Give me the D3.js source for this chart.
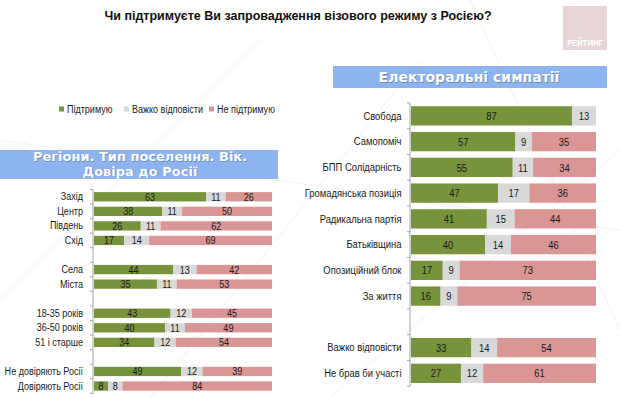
<!DOCTYPE html>
<html><head>
<meta charset="utf-8">
<script src="https://d3js.org/d3.v7.min.js"></script>
<style>
  body { margin: 0; background: #fff; }
  svg text { font-family: "Liberation Sans", Arial, sans-serif; }
  .hdr { font-family: "DejaVu Sans", sans-serif !important; font-weight: bold; }
</style>
</head>
<body>
<svg id="chart" width="620" height="398"></svg>
<script>
// categories and values (percent)
const leftCats = ["Захід", "Центр", "Південь", "Схід", "", "Села", "Міста", "",
  "18-35 років", "36-50 років", "51 і старше", "", "Не довіряють Росії", "Довіряють Росії"];
const leftSupport = [63, 38, 26, 17, null, 44, 35, null, 43, 40, 34, null, 49, 8];
const leftHard    = [11, 11, 11, 14, null, 13, 11, null, 12, 11, 12, null, 12, 8];
const leftAgainst = [26, 50, 62, 69, null, 42, 53, null, 45, 49, 54, null, 39, 84];

const rightCats = ["Свобода", "Самопоміч", "БПП Солідарність", "Громадянська позиція",
  "Радикальна партія", "Батьківщина", "Опозиційний блок", "За життя", "",
  "Важко відповісти", "Не брав би участі"];
const rightSupport = [87, 57, 55, 47, 41, 40, 17, 16, null, 33, 27];
const rightHard    = [13, 9, 11, 17, 15, 14, 9, 9, null, 14, 12];
const rightAgainst = [0, 35, 34, 36, 44, 46, 73, 75, null, 54, 61];

const seriesNames = ["Підтримую", "Важко відповісти", "Не підтримую"];
const colors = ["#77933c", "#d9d9d9", "#d99694"];

const NARROW = 0.82; // squeeze Arial-metric text to look like Arial Narrow
const svg = d3.select("#chart");

// faint background lines
const bg = svg.append("g").attr("stroke", "#eeeeee").attr("stroke-width", 0.8).attr("fill", "none");
[[0, 300, 260, 40], [150, 398, 420, 60], [330, 398, 620, 150], [470, 0, 620, 330], [0, 140, 620, 230]]
  .forEach(l => bg.append("line").attr("x1", l[0]).attr("y1", l[1]).attr("x2", l[2]).attr("y2", l[3]));

// title
svg.append("text").attr("x", 298).attr("y", 20).attr("text-anchor", "middle")
  .style("font-weight", "bold").style("font-size", "12.5px").attr("fill", "#111")
  .text("Чи підтримуєте Ви запровадження візового режиму з Росією?");

// logo
svg.append("rect").attr("x", 563).attr("y", 6).attr("width", 44).attr("height", 44).attr("fill", "#e6d6d7");
svg.append("text").attr("transform", "translate(585,46) scale(0.85,1)").attr("text-anchor", "middle")
  .style("font-weight", "bold").style("font-size", "9px").attr("fill", "#fff").text("РЕЙТИНГ");

// header text with a soft shadow
function header(x, y, size, txt) {
  svg.append("text").attr("class", "hdr").attr("x", x + 0.8).attr("y", y + 0.8).attr("text-anchor", "middle")
    .style("font-size", size + "px").attr("fill", "#5b79ab").attr("opacity", 0.7).text(txt);
  svg.append("text").attr("class", "hdr").attr("x", x).attr("y", y).attr("text-anchor", "middle")
    .style("font-size", size + "px").attr("fill", "#fff").text(txt);
}

svg.append("rect").attr("x", 0).attr("y", 150).attr("width", 278).attr("height", 29).attr("fill", "#8eb4f0");
header(140, 161, 13, "Регіони. Тип поселення. Вік.");
header(140, 175.5, 13, "Довіра до Росії");

svg.append("rect").attr("x", 333).attr("y", 66).attr("width", 274).attr("height", 22).attr("fill", "#8eb4f0");
header(469, 82, 14, "Електоральні симпатії");

// legend
const legX = [59, 124, 209];
seriesNames.forEach((n, i) => {
  svg.append("rect").attr("x", legX[i]).attr("y", 106.5).attr("width", 5).attr("height", 5).attr("fill", colors[i]);
  svg.append("text").attr("transform", `translate(${legX[i] + 8},113) scale(${NARROW},1)`)
    .style("font-size", "11px").attr("fill", "#222").text(n);
});

function drawPanel(cats, sup, hard, ag, x0, x1, y0, y1, pad, fs, labelPad) {
  const rows = cats.map((c, i) => ({ i: i, c: c, s: sup[i], h: hard[i], a: ag[i] }));
  const y = d3.scaleBand().domain(rows.map(d => d.i)).range([y0, y1]).paddingInner(pad).paddingOuter(pad / 2);
  const x = d3.scaleLinear().domain([0, 1]).range([x0, x1]);
  const filled = rows.filter(d => d.s !== null);
  const stack = d3.stack().keys(["s", "h", "a"]).offset(d3.stackOffsetExpand);
  const layers = stack(filled);
  const g = svg.append("g");
  layers.forEach((layer, k) => {
    const lg = g.append("g");
    lg.selectAll("rect").data(layer).join("rect")
      .attr("x", d => x(d[0])).attr("y", d => y(d.data.i))
      .attr("width", d => x(d[1]) - x(d[0])).attr("height", y.bandwidth())
      .attr("fill", colors[k]);
    lg.selectAll("text").data(layer.filter(d => d.data[layer.key] > 0)).join("text")
      .attr("transform", d => `translate(${(x(d[0]) + x(d[1])) / 2},${y(d.data.i) + y.bandwidth() / 2}) scale(${NARROW},1)`)
      .attr("dy", "0.36em").attr("text-anchor", "middle")
      .style("font-size", fs + "px").attr("fill", "#1a1a1a")
      .text(d => d.data[layer.key]);
  });
  // axis with category labels
  const ax = g.append("g").attr("transform", `translate(${x0 - 1},0)`)
    .call(d3.axisLeft(y).tickSize(0).tickPadding(0).tickFormat(i => cats[i]));
  ax.select(".domain").remove();
  ax.selectAll("text").attr("x", null)
    .attr("transform", `translate(${-labelPad},0) scale(${NARROW},1)`)
    .style("font-size", fs + "px").attr("fill", "#1a1a1a");
  const step = y.step();
  const top = y(0) - y.paddingInner() * step / 2;
  g.append("line").attr("x1", x0 - 1).attr("x2", x0 - 1).attr("y1", top).attr("y2", top + step * cats.length)
    .attr("stroke", "#a6a6a6");
  d3.range(cats.length + 1).forEach(j => {
    g.append("line").attr("x1", x0 - 4).attr("x2", x0 - 1)
      .attr("y1", top + j * step).attr("y2", top + j * step).attr("stroke", "#a6a6a6");
  });
}

drawPanel(leftCats, leftSupport, leftHard, leftAgainst, 94, 272, 189.5, 393.3, 0.36, 11, 10);
drawPanel(rightCats, rightSupport, rightHard, rightAgainst, 411, 596, 103, 386.2, 0.25, 11.5, 8.5);
</script>
</body>
</html>
